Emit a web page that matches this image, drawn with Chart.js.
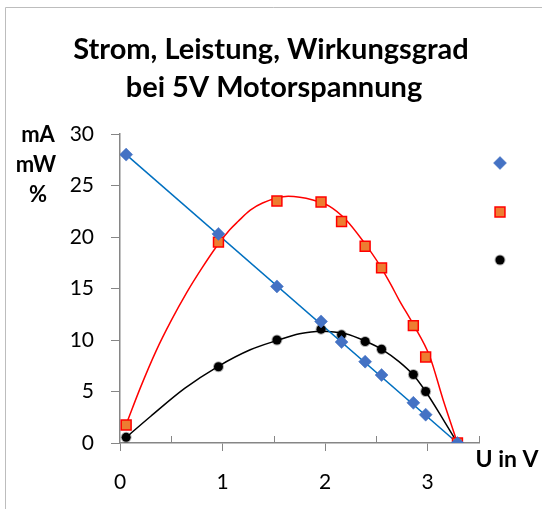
<!DOCTYPE html>
<html>
<head>
  <meta charset="UTF-8">
  <title>Strom, Leistung, Wirkungsgrad</title>
  <script src="https://cdn.jsdelivr.net/npm/chart.js@4/dist/chart.umd.min.js"></script>
  <style>
    html, body { margin: 0; padding: 0; background: #fff; }
  </style>
</head>
<body>
  <div style="position: relative; width:542px; height:509px;">
    <canvas id="chart" width="542" height="509"></canvas>
  </div>
  <script>
    var spannung = [0.06, 0.96, 1.53, 1.96, 2.16, 2.39, 2.55, 2.86, 2.98, 3.29];
    var strom    = [28.0, 20.3, 15.2, 11.8, 9.8, 7.9, 6.6, 3.9, 2.75, 0];
    var leistung = [1.75, 19.5, 23.5, 23.4, 21.5, 19.1, 17.0, 11.4, 8.35, 0];
    var wirkung  = [0.55, 7.4, 10.0, 11.05, 10.5, 9.85, 9.1, 6.65, 5.0, 0];

    // Trendlinien
    var stromTrendU = [0.06, 3.29];
    var stromTrend  = [28.0, 0];
    var leistTrendU = [0.06, 0.2, 0.35, 0.5, 0.65, 0.8, 0.95, 1.07, 1.15, 1.27, 1.39, 1.64, 1.88, 2.04, 2.2, 2.37, 2.53, 2.64, 2.72, 2.86, 3.02, 3.15, 3.29];
    var leistTrend  = [1.8, 5.4, 8.9, 11.9, 14.6, 17.0, 19.2, 20.7, 21.5, 22.6, 23.3, 23.95, 23.6, 23.0, 21.7, 19.6, 17.3, 15.4, 13.9, 11.5, 8.4, 4.2, 0];
    var wirkTrendU  = [0.06, 0.30, 0.63, 0.95, 1.27, 1.53, 1.75, 1.96, 2.2, 2.4, 2.56, 2.72, 2.86, 2.98, 3.15, 3.29];
    var wirkTrend   = [0.55, 2.6, 5.3, 7.4, 9.05, 9.95, 10.6, 10.85, 10.6, 9.85, 9.05, 7.9, 6.6, 5.0, 2.3, 0];

    var xTicks = [0, 1, 2, 3];
    var titel = ['Strom, Leistung, Wirkungsgrad', 'bei 5V Motorspannung'];

    function pts(xs, ys) {
      var out = [];
      for (var i = 0; i < xs.length; i++) out.push({x: xs[i], y: ys[i]});
      return out;
    }

    var axisGrey = '#868686';
    var font = 'Lato';

    // Rahmen, Titel, Achsentitel, Legende, kleine Striche
    var extras = {
      id: 'extras',
      beforeDraw: function(chart) {
        var c = chart.ctx;
        c.save();
        c.strokeStyle = '#bdbdbd';
        c.lineWidth = 1;
        c.beginPath();
        c.moveTo(5.5, 509);
        c.lineTo(5.5, 7.5);
        c.lineTo(542, 7.5);
        c.stroke();
        c.fillStyle = '#000';
        c.font = 'bold 29px ' + font;
        c.textAlign = 'center';
        c.textBaseline = 'alphabetic';
        c.fillText(titel[0], 271, 59);
        c.fillText(titel[1], 274, 97);
        c.restore();
      },
      afterDraw: function(chart) {
        var c = chart.ctx;
        var xs = chart.scales.x, ys = chart.scales.y;
        c.save();
        // kleine Striche nach oben
        c.strokeStyle = axisGrey;
        c.lineWidth = 1;
        [0.5, 1.5, 2.5, 3.5].forEach(function(v) {
          var px = Math.round(xs.getPixelForValue(v)) + 0.5;
          c.beginPath();
          c.moveTo(px, ys.bottom);
          c.lineTo(px, ys.bottom - 7);
          c.stroke();
        });
        c.fillStyle = '#000';
        c.font = 'bold 22px ' + font;
        c.textAlign = 'center';
        c.textBaseline = 'middle';
        c.fillText('mA', 38, 135);
        c.fillText('mW', 36, 165);
        c.fillText('%', 38, 195);
        c.font = 'bold 23px ' + font;
        c.fillText('U in V', 507, 460);
        // Legende nur mit Symbolen
        var legY = [163, 212, 260];
        [0, 1, 2].forEach(function(i) {
          var ds = chart.data.datasets[i];
          c.fillStyle = ds.pointBackgroundColor;
          c.strokeStyle = ds.pointBorderColor;
          c.lineWidth = ds.pointBorderWidth;
          Chart.helpers.drawPoint(c, {pointStyle: ds.pointStyle, radius: ds.pointRadius, rotation: 0, borderWidth: ds.pointBorderWidth}, 500, legY[i]);
        });
        c.restore();
      }
    };

    new Chart(document.getElementById('chart'), {
      type: 'scatter',
      data: {
        datasets: [{
          label: 'Strom',
          data: pts(spannung, strom),
          pointStyle: 'rectRot',
          pointRadius: 6.5,
          pointBackgroundColor: '#4472C4',
          pointBorderColor: 'rgba(68,114,196,0.5)',
          pointBorderWidth: 1,
          order: 1
        }, {
          label: 'Leistung',
          data: pts(spannung, leistung),
          pointStyle: 'rect',
          pointRadius: 7,
          pointBackgroundColor: '#ED7D31',
          pointBorderColor: '#FF0000',
          pointBorderWidth: 1.5,
          order: 1
        }, {
          label: 'Wirkungsgrad',
          data: pts(spannung, wirkung),
          pointStyle: 'circle',
          pointRadius: 4.5,
          pointBackgroundColor: '#000',
          pointBorderColor: 'rgba(0,0,0,0.3)',
          pointBorderWidth: 2,
          order: 1
        }, {
          label: 'Strom Trend',
          data: pts(stromTrendU, stromTrend),
          showLine: true,
          borderColor: '#0070C0',
          borderWidth: 1.5,
          pointRadius: 0,
          order: 2
        }, {
          label: 'Leistung Trend',
          data: pts(leistTrendU, leistTrend),
          showLine: true,
          cubicInterpolationMode: 'monotone',
          borderColor: '#FF0000',
          borderWidth: 1.5,
          pointRadius: 0,
          order: 2
        }, {
          label: 'Wirkungsgrad Trend',
          data: pts(wirkTrendU, wirkTrend),
          showLine: true,
          cubicInterpolationMode: 'monotone',
          borderColor: '#000000',
          borderWidth: 1.5,
          pointRadius: 0,
          order: 2
        }]
      },
      options: {
        responsive: false,
        animation: false,
        layout: { padding: { left: 0, right: 63, top: 134, bottom: 0 } },
        plugins: {
          legend: { display: false },
          tooltip: { enabled: false },
          title: { display: false }
        },
        scales: {
          x: {
            type: 'linear',
            min: 0,
            max: 3.5,
            afterBuildTicks: function(axis) {
              axis.ticks = [0, 0.5, 1, 1.5, 2, 2.5, 3, 3.5].map(function(v) { return {value: v}; });
            },
            afterFit: function(axis) { axis.height = 66; },
            border: { color: axisGrey, width: 1.5 },
            grid: {
              drawOnChartArea: false,
              tickLength: 8,
              tickColor: function(ctx) {
                return (ctx.tick && xTicks.indexOf(ctx.tick.value) >= 0) ? axisGrey : 'rgba(0,0,0,0)';
              }
            },
            ticks: {
              color: '#000',
              font: { family: font, size: 21 },
              padding: 19,
              maxRotation: 0,
              autoSkip: false,
              callback: function(v) { return xTicks.indexOf(v) >= 0 ? String(v) : ''; }
            }
          },
          y: {
            min: 0,
            max: 30,
            afterFit: function(axis) { axis.width = 120; },
            border: { color: axisGrey, width: 1.5 },
            grid: { drawOnChartArea: false, tickLength: 9, tickColor: axisGrey },
            ticks: {
              stepSize: 5,
              color: '#000',
              font: { family: font, size: 21 },
              padding: 17
            }
          }
        }
      },
      plugins: [extras]
    });
  </script>
</body>
</html>
